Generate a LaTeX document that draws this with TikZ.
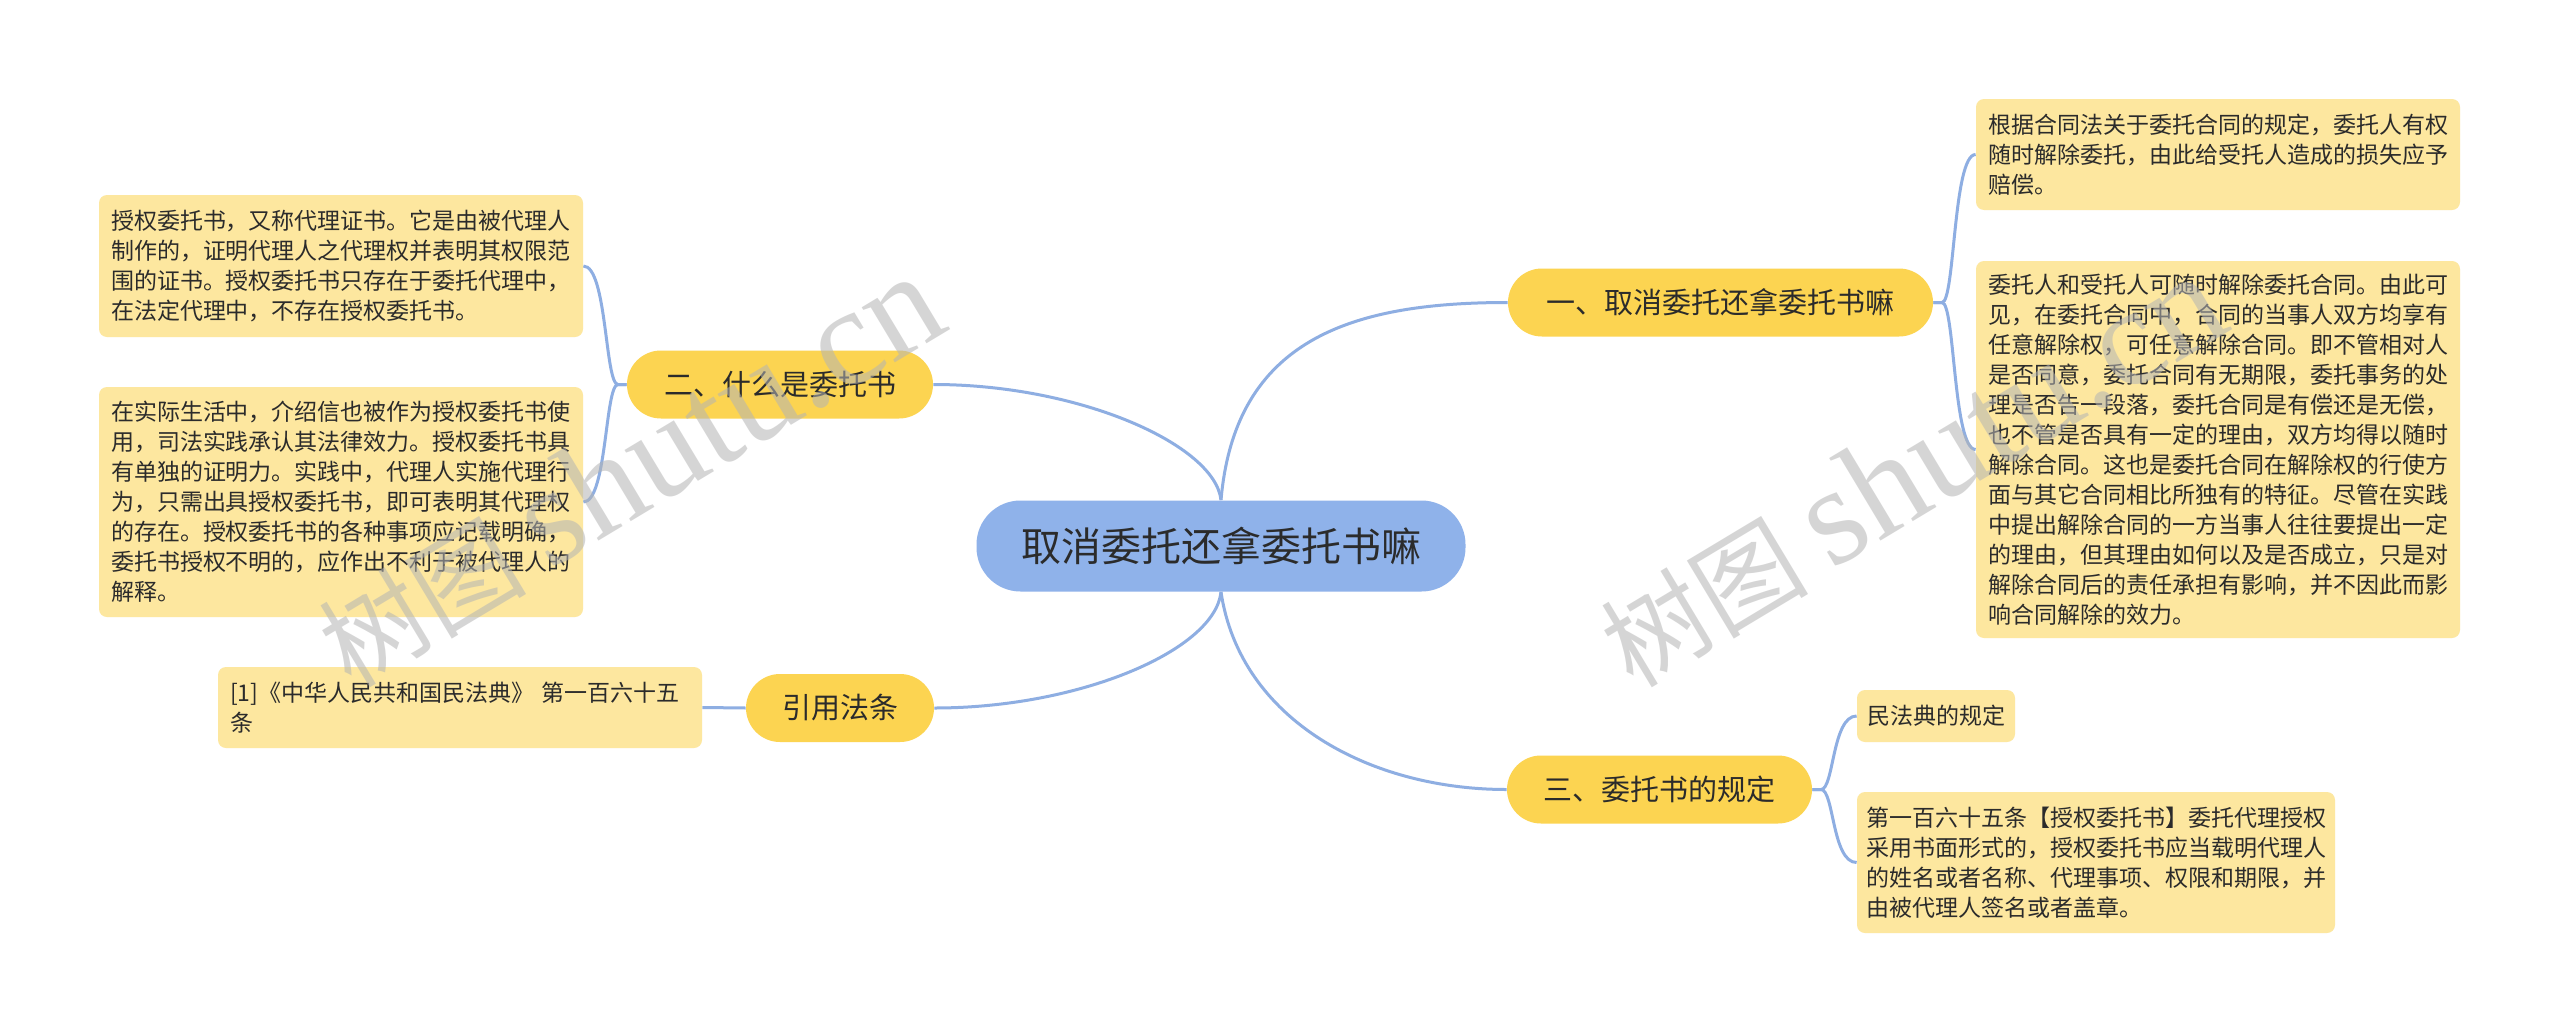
\documentclass[tikz,border=0pt]{standalone}
\usepackage{fontspec}
\usetikzlibrary{backgrounds}
\newfontfamily\cjk{Noto Sans CJK SC}
\newfontfamily\wmserif{Liberation Serif}
\definecolor{linec}{HTML}{8EAEE2}
\definecolor{rootc}{HTML}{8FB2EA}
\definecolor{branchc}{HTML}{FCD451}
\definecolor{leafc}{HTML}{FDE79F}
\definecolor{txt}{HTML}{2B2B2B}
\definecolor{wmc}{HTML}{B4B4B4}
\begin{document}
\begin{tikzpicture}[x=0.5pt,y=-0.5pt,
 rootbox/.style={fill=rootc, rounded corners=22pt, minimum width=244.5pt, minimum height=45.5pt, font=\cjk\fontsize{20pt}{24pt}\selectfont, text=txt, inner sep=0pt},
 branchbox/.style={fill=branchc, rounded corners=17pt, minimum height=34pt, font=\cjk\fontsize{14.5pt}{18pt}\selectfont, text=txt, inner sep=0pt},
 leafbox/.style={fill=leafc, rounded corners=4pt, font=\cjk\fontsize{11.5pt}{15pt}\selectfont, text=txt, align=left, text width=230pt, inner xsep=6pt, inner ysep=0pt},
 leafsmall/.style={fill=leafc, rounded corners=4pt, font=\cjk\fontsize{11.5pt}{15pt}\selectfont, text=txt, inner sep=0pt},
 conn/.style={draw=linec, line width=1.5pt},
 wmark/.style={text=wmc, text opacity=0.55, rotate=31, anchor=base west, inner sep=0pt},
]
\useasboundingbox (0,0) rectangle (2560,1033);

% root
\node[rootbox] (C) at (1221,546) {取消委托还拿委托书嘛};

% branches
\node[branchbox, minimum width=212.5pt] (B1) at (1720.5,302.5) {一、取消委托还拿委托书嘛};
\node[branchbox, minimum width=153pt] (B2) at (780,384.5) {二、什么是委托书};
\node[branchbox, minimum width=94pt] (B4) at (840,708) {引用法条};
\node[branchbox, minimum width=152.5pt] (B3) at (1659.5,789.5) {三、委托书的规定};

% leaves
\node[leafbox, minimum height=71pt] (L1) at (341,266) {授权委托书，又称代理证书。它是由被代理人\\制作的，证明代理人之代理权并表明其权限范\\围的证书。授权委托书只存在于委托代理中，\\在法定代理中，不存在授权委托书。};
\node[leafbox, minimum height=115pt] (L2) at (341,502) {在实际生活中，介绍信也被作为授权委托书使\\用，司法实践承认其法律效力。授权委托书具\\有单独的证明力。实践中，代理人实施代理行\\为，只需出具授权委托书，即可表明其代理权\\的存在。授权委托书的各种事项应记载明确，\\委托书授权不明的，应作出不利于被代理人的\\解释。};
\node[leafbox, minimum height=40.5pt] (L3) at (460,707.5) {[1]《中华人民共和国民法典》~第一百六十五\\条};
\node[leafbox, minimum height=55.5pt] (R1) at (2218,154.5) {根据合同法关于委托合同的规定，委托人有权\\随时解除委托，由此给受托人造成的损失应予\\赔偿。};
\node[leafbox, minimum height=188.5pt] (R2) at (2218,449.5) {委托人和受托人可随时解除委托合同。由此可\\见，在委托合同中，合同的当事人双方均享有\\任意解除权，可任意解除合同。即不管相对人\\是否同意，委托合同有无期限，委托事务的处\\理是否告一段落，委托合同是有偿还是无偿，\\也不管是否具有一定的理由，双方均得以随时\\解除合同。这也是委托合同在解除权的行使方\\面与其它合同相比所独有的特征。尽管在实践\\中提出解除合同的一方当事人往往要提出一定\\的理由，但其理由如何以及是否成立，只是对\\解除合同后的责任承担有影响，并不因此而影\\响合同解除的效力。};
\node[leafsmall, minimum width=79pt, minimum height=26pt] (R3) at (1936,716) {民法典的规定};
\node[leafbox, inner xsep=4.5pt, minimum height=70.5pt] (R4) at (2096,862.5) {第一百六十五条【授权委托书】委托代理授权\\采用书面形式的，授权委托书应当载明代理人\\的姓名或者名称、代理事项、权限和期限，并\\由被代理人签名或者盖章。};

\begin{pgfonlayer}{background}
\fill[white] (0,0) rectangle (2560,1033);
% root connectors
\draw[conn] (C.north) .. controls (1235,340) and (1350,302.5) .. (B1.west);
\draw[conn] (B2.east) .. controls (1080,384.5) and (1215,445) .. (C.north);
\draw[conn] (B4.east) .. controls (1080,708) and (1215,650) .. (C.south);
\draw[conn] (C.south) .. controls (1240,720) and (1370,789.5) .. (B3.west);
% leaf connectors
\draw[conn] (B1.east) -- (1942,302.5) .. controls (1955,302.5) and (1953,154.5) .. (R1.west);
\draw[conn] (B1.east) -- (1942,302.5) .. controls (1955,302.5) and (1953,449.5) .. (R2.west);
\draw[conn] (B3.east) -- (1821,789.5) .. controls (1834,789.5) and (1832,716) .. (R3.west);
\draw[conn] (B3.east) -- (1821,789.5) .. controls (1834,789.5) and (1832,862.5) .. (R4.west);
\draw[conn] (B2.west) -- (618,384.5) .. controls (605,384.5) and (607,266) .. (L1.east);
\draw[conn] (B2.west) -- (618,384.5) .. controls (605,384.5) and (607,502) .. (L2.east);
\draw[conn] (B4.west) -- (L3.east);
\end{pgfonlayer}

% watermarks
\node[wmark] (W1) at (351,690) {\cjk\fontsize{52pt}{52pt}\selectfont 树图 \wmserif\fontsize{70pt}{70pt}\selectfont shutu.cn};
\node[wmark] (W2) at (1633,690) {\cjk\fontsize{52pt}{52pt}\selectfont 树图 \wmserif\fontsize{70pt}{70pt}\selectfont shutu.cn};
\end{tikzpicture}
\end{document}
